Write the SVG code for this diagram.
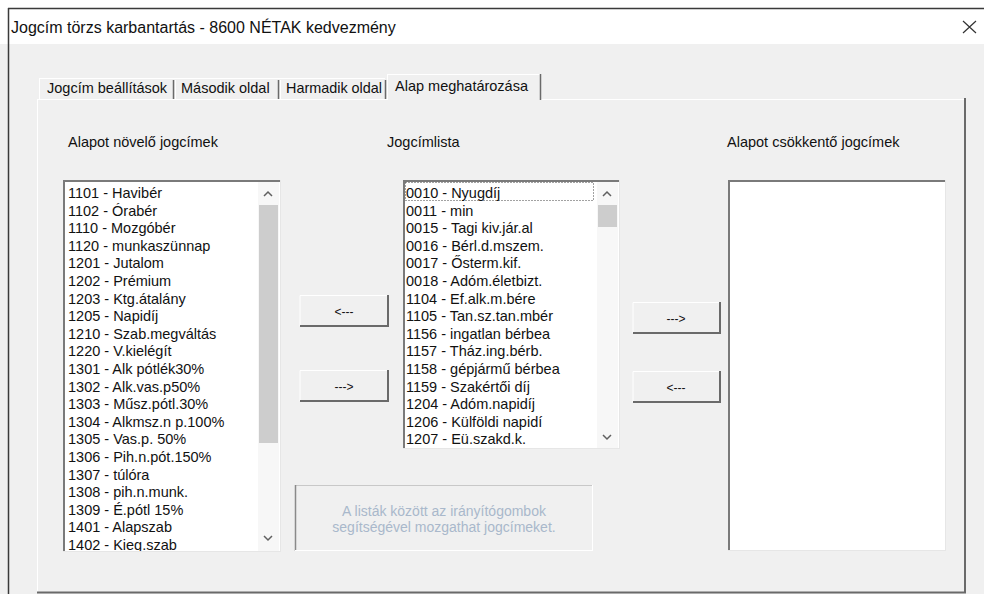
<svg xmlns="http://www.w3.org/2000/svg" width="984" height="594" viewBox="0 0 984 594">
<style>
text{font-family:"Liberation Sans",Arial,sans-serif;fill:#111}
.title{font-size:16px}
.tab{font-size:14.5px}
.lbl{font-size:14.5px}
.item{font-size:14.5px}
.btn{font-size:12px;text-anchor:middle}
.hint{font-size:14px;fill:#a9b8cb;text-anchor:middle}
.hl{stroke:#ffffff;stroke-width:1}
.sh{stroke:#6a6a6a;stroke-width:2}
.dk{stroke:#7a7a7a;stroke-width:2}
.lt{stroke:#e6e6e6;stroke-width:1}
.chev{fill:none;stroke:#606060;stroke-width:1.5}
</style>
<defs>
<clipPath id="clipL"><rect x="64" y="182" width="194" height="369"/></clipPath>
<clipPath id="clipM"><rect x="404" y="182" width="193" height="266"/></clipPath>
</defs>
<rect x="0" y="0" width="984" height="594" fill="#f0f0f0"/>
<g id="titlebar">
<rect x="0" y="0" width="984" height="44" fill="#ffffff"/>
<line x1="8" y1="8.5" x2="984" y2="8.5" stroke="#3a3a3a" stroke-width="1.5"/>
<line x1="8.5" y1="8" x2="8.5" y2="594" stroke="#3a3a3a" stroke-width="1.5"/>
<text class="title" x="11" y="33">Jogcím törzs karbantartás - 8600 NÉTAK kedvezmény</text>
<path d="M963 21 L976 33 M976 21 L963 33" stroke="#333" stroke-width="1.2" fill="none"/>
</g>
<g id="tabpanel">
<line x1="37" y1="99.5" x2="965" y2="99.5" class="hl"/>
<line x1="37.5" y1="99" x2="37.5" y2="593" class="hl"/>
<line x1="965" y1="98" x2="965" y2="593" class="sh"/>
<line x1="37" y1="592.5" x2="966" y2="592.5" stroke="#6a6a6a" stroke-width="2"/>
</g>
<g id="tabs">
<line x1="39" y1="78.5" x2="385" y2="78.5" class="hl"/>
<line x1="39.5" y1="78" x2="39.5" y2="99" class="hl"/>
<line x1="173.5" y1="80" x2="173.5" y2="99" stroke="#6a6a6a" stroke-width="1.5"/>
<line x1="175.5" y1="80" x2="175.5" y2="99" class="hl"/>
<line x1="278.5" y1="80" x2="278.5" y2="99" stroke="#6a6a6a" stroke-width="1.5"/>
<line x1="280.5" y1="80" x2="280.5" y2="99" class="hl"/>
<line x1="385.5" y1="80" x2="385.5" y2="99" stroke="#6a6a6a" stroke-width="1.5"/>
<rect x="387" y="74" width="153" height="26" fill="#f0f0f0"/>
<line x1="387" y1="74.5" x2="540" y2="74.5" class="hl"/>
<line x1="387.5" y1="74" x2="387.5" y2="100" class="hl"/>
<line x1="540.5" y1="74" x2="540.5" y2="100" stroke="#6a6a6a" stroke-width="1.5"/>
<text class="tab" x="47" y="93">Jogcím beállítások</text>
<text class="tab" x="181" y="93">Második oldal</text>
<text class="tab" x="286" y="93" textLength="96" lengthAdjust="spacingAndGlyphs">Harmadik oldal</text>
<text class="tab" x="395" y="91">Alap meghatározása</text>
</g>
<g id="label-left"><text class="lbl" x="68" y="147">Alapot növelő jogcímek</text></g>
<g id="label-mid"><text class="lbl" x="387" y="147">Jogcímlista</text></g>
<g id="label-right"><text class="lbl" x="727" y="147">Alapot csökkentő jogcímek</text></g>
<g id="list-left">
<rect x="63" y="180" width="218" height="371" fill="#ffffff"/>
<line x1="63" y1="181" x2="281" y2="181" class="dk"/>
<line x1="64" y1="180" x2="64" y2="551" class="dk"/>
<line x1="63" y1="551.5" x2="281" y2="551.5" class="lt"/>
<line x1="280.5" y1="180" x2="280.5" y2="552" class="lt"/>
<rect x="258" y="182" width="21" height="369" fill="#f7f7f7"/>
<rect x="259" y="205" width="19" height="238" fill="#cdcdcd"/>
<polyline class="chev" points="264,196 268,192 272,196"/>
<polyline class="chev" points="264,536 268,540 272,536"/>
<g clip-path="url(#clipL)">
<text class="item" x="68" y="198">1101 - Havibér</text>
<text class="item" x="68" y="215.6">1102 - Órabér</text>
<text class="item" x="68" y="233.2">1110 - Mozgóbér</text>
<text class="item" x="68" y="250.8">1120 - munkaszünnap</text>
<text class="item" x="68" y="268.4">1201 - Jutalom</text>
<text class="item" x="68" y="286">1202 - Prémium</text>
<text class="item" x="68" y="303.6">1203 - Ktg.átalány</text>
<text class="item" x="68" y="321.2">1205 - Napidíj</text>
<text class="item" x="68" y="338.8">1210 - Szab.megváltás</text>
<text class="item" x="68" y="356.4">1220 - V.kielégít</text>
<text class="item" x="68" y="374">1301 - Alk pótlék30%</text>
<text class="item" x="68" y="391.6">1302 - Alk.vas.p50%</text>
<text class="item" x="68" y="409.2">1303 - Műsz.pótl.30%</text>
<text class="item" x="68" y="426.8">1304 - Alkmsz.n p.100%</text>
<text class="item" x="68" y="444.4">1305 - Vas.p. 50%</text>
<text class="item" x="68" y="462">1306 - Pih.n.pót.150%</text>
<text class="item" x="68" y="479.6">1307 - túlóra</text>
<text class="item" x="68" y="497.2">1308 - pih.n.munk.</text>
<text class="item" x="68" y="514.8">1309 - É.pótl 15%</text>
<text class="item" x="68" y="532.4">1401 - Alapszab</text>
<text class="item" x="68" y="550">1402 - Kieg.szab</text>
</g>
</g>
<g id="list-mid">
<rect x="403" y="180" width="217" height="268" fill="#ffffff"/>
<line x1="403" y1="181" x2="620" y2="181" class="dk"/>
<line x1="404" y1="180" x2="404" y2="448" class="dk"/>
<line x1="403" y1="448.5" x2="620" y2="448.5" class="lt"/>
<line x1="619.5" y1="180" x2="619.5" y2="449" class="lt"/>
<rect x="597" y="182" width="21" height="266" fill="#f7f7f7"/>
<rect x="598" y="205" width="19" height="22" fill="#cdcdcd"/>
<polyline class="chev" points="603,196 607,192 611,196"/>
<polyline class="chev" points="603,435 607,439 611,435"/>
<rect x="405.5" y="182.5" width="188" height="18" fill="none" stroke="#444" stroke-width="1" stroke-dasharray="1 2"/>
<g clip-path="url(#clipM)">
<text class="item" x="406" y="198">0010 - Nyugdíj</text>
<text class="item" x="406" y="215.6">0011 - min</text>
<text class="item" x="406" y="233.2">0015 - Tagi kiv.jár.al</text>
<text class="item" x="406" y="250.8">0016 - Bérl.d.mszem.</text>
<text class="item" x="406" y="268.4">0017 - Ősterm.kif.</text>
<text class="item" x="406" y="286">0018 - Adóm.életbizt.</text>
<text class="item" x="406" y="303.6">1104 - Ef.alk.m.bére</text>
<text class="item" x="406" y="321.2">1105 - Tan.sz.tan.mbér</text>
<text class="item" x="406" y="338.8">1156 - ingatlan bérbea</text>
<text class="item" x="406" y="356.4">1157 - Tház.ing.bérb.</text>
<text class="item" x="406" y="374">1158 - gépjármű bérbea</text>
<text class="item" x="406" y="391.6">1159 - Szakértői díj</text>
<text class="item" x="406" y="409.2">1204 - Adóm.napidíj</text>
<text class="item" x="406" y="426.8">1206 - Külföldi napidí</text>
<text class="item" x="406" y="444.4">1207 - Eü.szakd.k.</text>
</g>
</g>
<g id="list-right">
<rect x="728" y="180" width="218" height="370" fill="#ffffff"/>
<line x1="728" y1="181" x2="946" y2="181" class="dk"/>
<line x1="729" y1="180" x2="729" y2="550" class="dk"/>
<line x1="728" y1="550.5" x2="946" y2="550.5" class="lt"/>
<line x1="945.5" y1="180" x2="945.5" y2="551" class="lt"/>
</g>
<g id="btn-left-back">
<rect x="300" y="295" width="88" height="31" fill="#f0f0f0"/>
<path d="M300 326 V295.5 H388" class="hl" fill="none"/>
<path d="M300 326 H388 V295" class="sh" fill="none"/>
<text class="btn" x="344" y="316">&lt;---</text>
</g>
<g id="btn-left-fwd">
<rect x="300" y="370" width="88" height="31" fill="#f0f0f0"/>
<path d="M300 401 V370.5 H388" class="hl" fill="none"/>
<path d="M300 401 H388 V370" class="sh" fill="none"/>
<text class="btn" x="344" y="391">---&gt;</text>
</g>
<g id="btn-right-fwd">
<rect x="633" y="302" width="87" height="31" fill="#f0f0f0"/>
<path d="M633 333 V302.5 H720" class="hl" fill="none"/>
<path d="M633 333 H720 V302" class="sh" fill="none"/>
<text class="btn" x="676" y="323">---&gt;</text>
</g>
<g id="btn-right-back">
<rect x="633" y="371" width="87" height="31" fill="#f0f0f0"/>
<path d="M633 402 V371.5 H720" class="hl" fill="none"/>
<path d="M633 402 H720 V371" class="sh" fill="none"/>
<text class="btn" x="676" y="392">&lt;---</text>
</g>
<g id="hint">
<rect x="295" y="485" width="298" height="66" fill="#f0f0f0"/>
<line x1="295" y1="485.5" x2="593" y2="485.5" stroke="#c8c8c8" stroke-width="1"/>
<line x1="295.5" y1="485" x2="295.5" y2="551" stroke="#8a8a8a" stroke-width="1.5"/>
<line x1="295" y1="550.5" x2="593" y2="550.5" class="hl"/>
<line x1="592.5" y1="485" x2="592.5" y2="551" class="hl"/>
<text class="hint" x="444" y="516">A listák között az irányítógombok</text>
<text class="hint" x="444" y="532">segítségével mozgathat jogcímeket.</text>
</g>
</svg>
